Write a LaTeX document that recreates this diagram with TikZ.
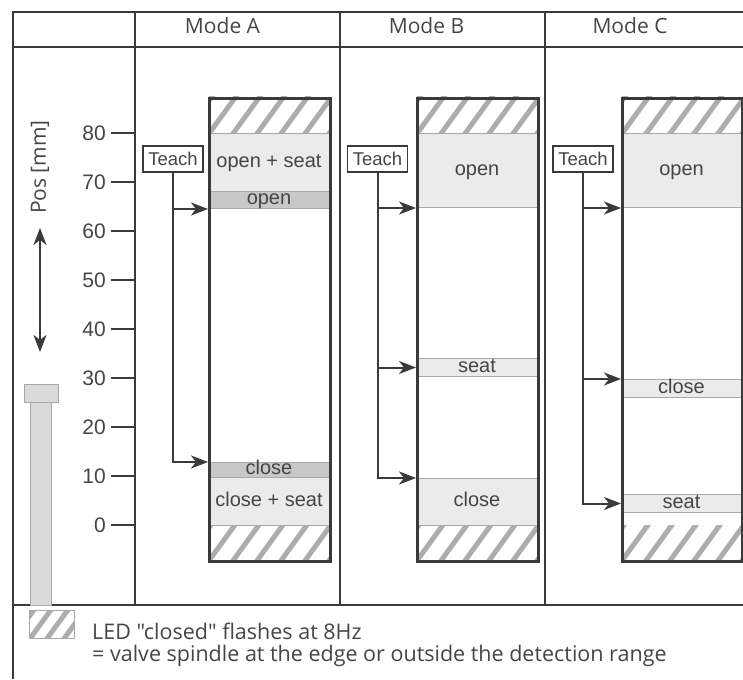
\documentclass[tikz,border=0pt]{standalone}
\usepackage{fontspec}
\setmainfont{Liberation Sans}
\newfontfamily\frutfont{Open Sans}
\usepackage{tikz}
\usetikzlibrary{arrows.meta, positioning}
\definecolor{vsline}{HTML}{3A3A3A}
\definecolor{vstext}{HTML}{454545}
\definecolor{vslight}{HTML}{EBEBEB}
\definecolor{vsdark}{HTML}{C8C8C8}
\definecolor{vsedge}{HTML}{A8A8A8}
\definecolor{vshatch}{HTML}{ADADAD}
\definecolor{vsspin}{HTML}{DADADA}

\newcommand{\hatchrect}[5]{%
  \begin{scope}
    \clip (#1,#2) rectangle (#3,#4);
    \foreach \k in {-4,...,9}
      \draw[hatchline] ({#1+\k*#5},{#4+2}) -- ++(32,-44);
  \end{scope}}

\begin{document}
\begin{tikzpicture}[
  x=1pt, y=-1pt,
  tablel/.style={draw=vsline, line width=2pt},
  hdr/.style={font=\frutfont\fontsize{21}{24}\selectfont, text=vstext,
              inner sep=0pt, anchor=base},
  numlbl/.style={font=\fontsize{21}{24}\selectfont, text=vstext, inner sep=0pt},
  tickln/.style={draw=vsline, line width=2.5pt},
  hatchline/.style={draw=vshatch, line width=5pt},
  valvebox/.style={rectangle, draw=vsline, line width=3pt,
                   minimum width=121pt, minimum height=463pt,
                   anchor=north west, inner sep=0pt},
  bandlt/.style={rectangle, draw=vsedge, line width=1pt, fill=vslight,
                 minimum width=121pt, anchor=north west, inner sep=0pt,
                 text height=9.5pt, text depth=0pt, text=vstext,
                 font=\fontsize{20}{24}\selectfont},
  banddk/.style={bandlt, fill=vsdark},
  teachbox/.style={rectangle, draw=vsline, line width=1.5pt, fill=white,
                   minimum width=60pt, minimum height=26pt, inner sep=0pt,
                   text=vstext, font=\fontsize{18.5}{22}\selectfont},
  arr/.style={-{Stealth[length=17pt, width=13pt, inset=5pt]},
              draw=vsline, line width=2pt},
  dblarr/.style={{Stealth[length=17pt, width=13pt, inset=5pt]}-{Stealth[length=17pt, width=13pt, inset=5pt]},
                 draw=vsline, line width=2pt},
  spindle/.style={fill=vsspin, draw=vsedge, line width=1pt},
  legbox/.style={rectangle, draw=vsedge, line width=1pt,
                 minimum width=45pt, minimum height=28pt,
                 anchor=north west, inner sep=0pt},
  legtxt/.style={font=\frutfont\fontsize{21.5}{24}\selectfont, text=vstext,
                 inner sep=0pt, anchor=base west}
]
  \useasboundingbox (0,0) rectangle (743,679);

  % table frame
  \draw[tablel] (743,12) -- (13,12) -- (13,679);
  \draw[tablel] (13,47) -- (743,47);
  \draw[tablel] (13,605) -- (743,605);
  \foreach \x in {135,340,545}
    \draw[tablel] (\x,12) -- (\x,605);

  \node[hdr] (hdrA) at (222.5,34) {Mode A};
  \node[hdr] (hdrB) at (426.5,34) {Mode B};
  \node[hdr] (hdrC) at (630,34) {Mode C};

  % position scale
  \foreach \n in {0,10,...,80} {
    \coordinate (tk\n) at (135,{525-4.9*\n});
    \draw[tickln] (tk\n) -- ++(-24,0) coordinate (tke\n);
    \node[numlbl, left=5pt of tke\n] (lb\n) {\n};
  }
  \node[hdr, anchor=center, rotate=90] (posl) at (40,167) {Pos [mm]};
  \coordinate (dup) at (40,228);
  \coordinate (ddn) at (40,352);
  \draw[dblarr] (dup) -- (ddn);
  \draw[spindle] (30,402) rectangle (51,605);
  \draw[spindle] (24,384) rectangle (58,402);

  % mode A
  \hatchrect{208}{97}{329}{133}{24}
  \hatchrect{208}{525}{329}{560}{24}
  \node[bandlt, minimum height=58pt] (aOS) at (208,133) {open + seat};
  \node[banddk, minimum height=17pt] (aO) at (208,191) {open};
  \node[banddk, minimum height=15pt] (aC) at (208,462) {close};
  \node[bandlt, minimum height=48pt] (aCS) at (208,477) {close + seat};
  \node[valvebox] (boxA) at (208,97) {};
  \node[teachbox] (teachA) at (173,159) {Teach};
  \draw[arr] (teachA.south) |- (aO.south west);
  \draw[arr] (teachA.south) |- (aC.north west);

  % mode B
  \hatchrect{416}{97}{537}{133}{24}
  \hatchrect{416}{525}{537}{560}{24}
  \node[bandlt, minimum height=74pt] (bO) at (416,133) {open};
  \node[bandlt, minimum height=18pt] (bS) at (416,358) {seat};
  \node[bandlt, minimum height=47pt] (bC) at (416,478) {close};
  \node[valvebox] (boxB) at (416,97) {};
  \node[teachbox] (teachB) at (377.5,159) {Teach};
  \draw[arr] (teachB.south) |- (bO.south west);
  \draw[arr] (teachB.south) |- (bS.west);
  \draw[arr] (teachB.south) |- (bC.north west);

  % mode C
  \hatchrect{621}{97}{741}{133}{24}
  \hatchrect{621}{525}{741}{560}{24}
  \node[bandlt, minimum height=74pt, minimum width=120pt] (cO) at (621,133) {open};
  \node[bandlt, minimum height=18pt, minimum width=120pt] (cC) at (621,379) {close};
  \node[bandlt, minimum height=18pt, minimum width=120pt] (cS) at (621,494) {seat};
  \node[valvebox, minimum width=120pt] (boxC) at (621,97) {};
  \node[teachbox] (teachC) at (583,159) {Teach};
  \draw[arr] (teachC.south) |- (cO.south west);
  \draw[arr] (teachC.south) |- (cC.north west);
  \draw[arr] (teachC.south) |- (cS.west);

  % legend
  \hatchrect{29}{610}{74}{638}{17}
  \node[legbox] (legicon) at (29,610) {};
  \node[legtxt] (leg1) at (92,639) {LED "closed" flashes at 8Hz};
  \node[legtxt] (leg2) at (92,661) {= valve spindle at the edge or outside the detection range};
\end{tikzpicture}
\end{document}
